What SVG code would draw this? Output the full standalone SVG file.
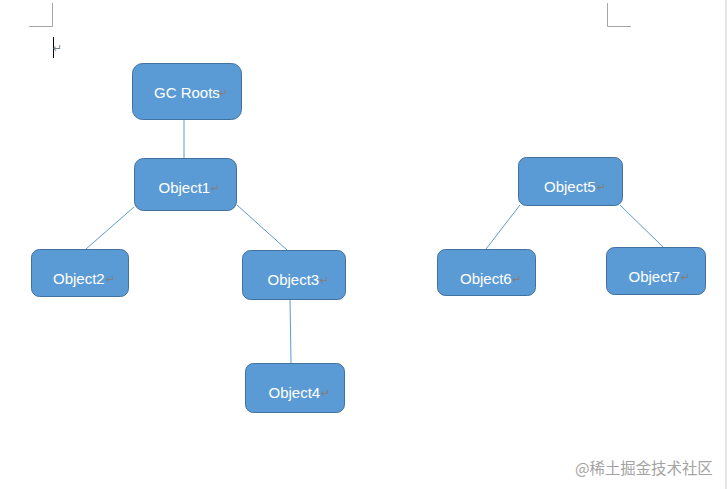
<svg xmlns="http://www.w3.org/2000/svg" width="727" height="489" viewBox="0 0 727 489">
<style>
.box{fill:#5B9BD5;stroke:#41719C;stroke-width:1}
.lbl{font-family:"Liberation Sans",Arial,sans-serif;font-size:15px;fill:#ffffff}
.pm{font-family:"DejaVu Sans",sans-serif;font-size:11px;fill:#7f7f7f}
.edge{stroke:#5B9BD5;stroke-width:1;fill:none}
.corner{stroke:#a6a6a6;stroke-width:1;fill:none}
</style>
<rect width="727" height="489" fill="#ffffff"/>
<g id="page-marks">
<path class="corner" d="M52.5,3 V26.5 H29"/>
<path class="corner" d="M607.5,3 V26.5 H631"/>
<line x1="726" y1="0" x2="726" y2="489" stroke="#dcdcdc" stroke-width="1.5"/>
<line x1="53.5" y1="37" x2="53.5" y2="58" stroke="#000" stroke-width="1"/>
<text class="pm" x="53" y="52">↵</text>
</g>
<g id="connectors">
<line class="edge" x1="184" y1="120" x2="184" y2="158"/>
<line class="edge" x1="134" y1="207" x2="86" y2="249"/>
<line class="edge" x1="237" y1="205" x2="287" y2="250"/>
<line class="edge" x1="290" y1="299" x2="291" y2="363"/>
<line class="edge" x1="520" y1="205" x2="486" y2="249"/>
<line class="edge" x1="620" y1="205" x2="663" y2="247"/>
</g>
<g id="gc-roots">
<rect class="box" x="132.5" y="63.5" width="109" height="56" rx="10"/>
<text class="lbl" x="154" y="98">GC Roots</text><text class="pm" x="219" y="97">↵</text>
</g>
<g id="object1">
<rect class="box" x="134.5" y="158.5" width="102" height="52" rx="9"/>
<text class="lbl" x="158.5" y="193">Object1</text><text class="pm" x="211" y="192">↵</text>
</g>
<g id="object2">
<rect class="box" x="31.5" y="249.5" width="97" height="47" rx="8"/>
<text class="lbl" x="53" y="284">Object2</text><text class="pm" x="106" y="283">↵</text>
</g>
<g id="object3">
<rect class="box" x="242.5" y="250.5" width="103" height="49" rx="8"/>
<text class="lbl" x="267.5" y="285">Object3</text><text class="pm" x="320" y="284">↵</text>
</g>
<g id="object4">
<rect class="box" x="245.5" y="363.5" width="99" height="49" rx="8"/>
<text class="lbl" x="268.5" y="398">Object4</text><text class="pm" x="321" y="397">↵</text>
</g>
<g id="object5">
<rect class="box" x="518.5" y="157.5" width="104" height="48" rx="8"/>
<text class="lbl" x="544" y="192">Object5</text><text class="pm" x="597" y="191">↵</text>
</g>
<g id="object6">
<rect class="box" x="437.5" y="249.5" width="98" height="46" rx="8"/>
<text class="lbl" x="460" y="284">Object6</text><text class="pm" x="512.5" y="283">↵</text>
</g>
<g id="object7">
<rect class="box" x="606.5" y="247.5" width="99" height="47" rx="8"/>
<text class="lbl" x="628.5" y="282">Object7</text><text class="pm" x="681" y="281">↵</text>
</g>
<g id="watermark">
<text x="575" y="474" font-family="'Noto Sans CJK SC',sans-serif" font-size="15.4" fill="#a3a3a3">@稀土掘金技术社区</text>
</g>
</svg>
